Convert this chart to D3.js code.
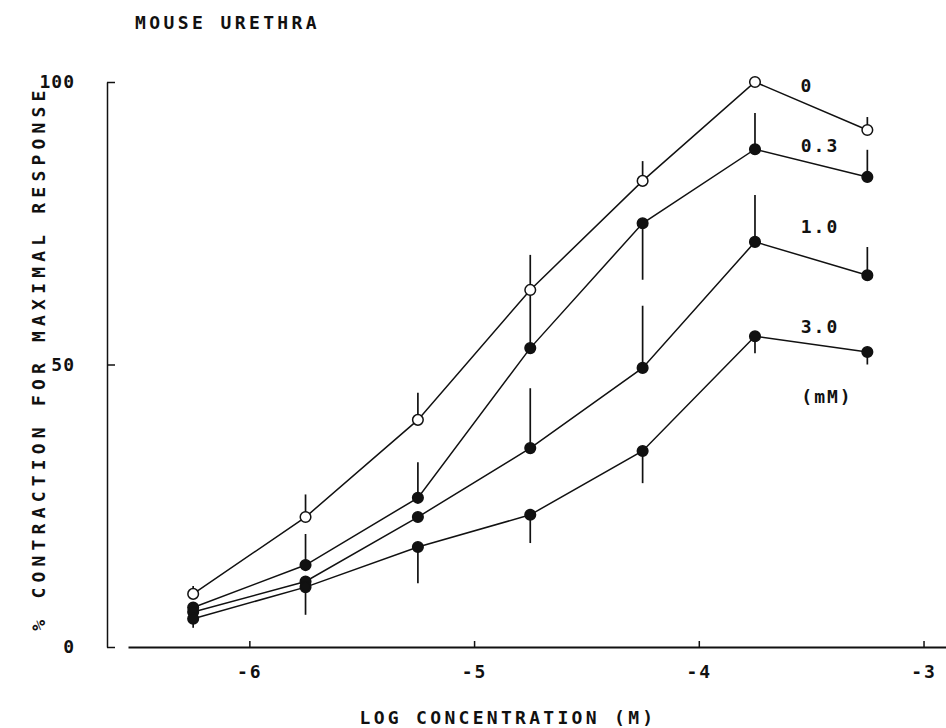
<!DOCTYPE html>
<html>
<head>
<meta charset="utf-8">
<script src="https://cdn.jsdelivr.net/npm/d3@7"></script>
<style>
  body { margin: 0; background: #fff; }
  text { font-family: "DejaVu Sans Mono", monospace; font-weight: bold; fill: #111; }
</style>
</head>
<body>
<svg id="chart" width="946" height="728"></svg>
<script>
// log concentration (M) of agonist
let logConc = [-6.25, -5.75, -5.25, -4.75, -4.25, -3.75, -3.25];

// % contraction, one array per antagonist concentration (mM)
let resp0  = [9.4, 23.0, 40.2, 63.2, 82.5, 100, 91.5];
let resp03 = [7.0, 14.5, 26.4, 52.9, 75.0, 88.1, 83.2];
let resp10 = [6.2, 11.6, 23.0, 35.2, 49.4, 71.7, 65.8];
let resp30 = [5.0, 10.6, 17.7, 23.4, 34.7, 55.0, 52.2];

// end of the (one-sided) error bar for each point, null = none drawn
let errEnd0  = [10.8, 27, 45, 69.4, 86, null, 93.8];
let errEnd03 = [null, 20, 32.7, 62.6, 65, 94.5, 88];
let errEnd10 = [null, null, null, 45.8, 60.4, 80, 70.8];
let errEnd30 = [3.4, 5.7, 11.3, 18.4, 29, 52, 50];

let seriesLabels = ["0", "0.3", "1.0", "3.0"];
let yTicks = [0, 50, 100];
let xTicks = [-6, -5, -4, -3];

let series = [
  {name: "0",   vals: resp0,  err: errEnd0,  open: true},
  {name: "0.3", vals: resp03, err: errEnd03, open: false},
  {name: "1.0", vals: resp10, err: errEnd10, open: false},
  {name: "3.0", vals: resp30, err: errEnd30, open: false}
];

let svg = d3.select("#chart");

let x = d3.scaleLinear().domain([-6.54, -2.9]).range([128, 946]);
let y = d3.scaleLinear().domain([0, 100]).range([647, 82]);

// y axis
let axisY = svg.append("g").attr("transform", "translate(107,0)")
  .call(d3.axisLeft(y).tickValues(yTicks).tickSizeInner(-8).tickSizeOuter(0).tickPadding(32));
axisY.select(".domain").attr("stroke", "#111").attr("stroke-width", 1.5);
axisY.selectAll(".tick line").attr("stroke", "#111").attr("stroke-width", 1.5);
axisY.selectAll(".tick text").attr("font-size", 18).attr("font-family", "DejaVu Sans Mono")
  .attr("font-weight", "bold").attr("letter-spacing", 1).attr("fill", "#111");

// x axis
let axisX = svg.append("g").attr("transform", "translate(0,647)")
  .call(d3.axisBottom(x).tickValues(xTicks).tickSizeInner(-6).tickSizeOuter(0).tickPadding(18)
    .tickFormat(d => "-" + Math.abs(d)));
axisX.select(".domain").attr("stroke", "#111").attr("stroke-width", 2);
axisX.selectAll(".tick line").attr("stroke", "#111").attr("stroke-width", 1.5);
axisX.selectAll(".tick text").attr("font-size", 18).attr("font-family", "DejaVu Sans Mono")
  .attr("font-weight", "bold").attr("letter-spacing", 2).attr("fill", "#111");

// error bars
let bars = svg.append("g");
series.forEach(s => {
  s.vals.forEach((v, i) => {
    if (s.err[i] == null) return;
    bars.append("line")
      .attr("x1", x(logConc[i])).attr("x2", x(logConc[i]))
      .attr("y1", y(v)).attr("y2", y(s.err[i]))
      .attr("stroke", "#111").attr("stroke-width", 1.7);
  });
});

// lines
let line = d3.line().x((d, i) => x(logConc[i])).y(d => y(d));
svg.append("g").selectAll("path")
  .data(series)
  .join("path")
  .attr("d", d => line(d.vals))
  .attr("fill", "none")
  .attr("stroke", "#111")
  .attr("stroke-width", 1.5);

// markers
series.forEach(s => {
  svg.append("g").selectAll("circle")
    .data(s.vals)
    .join("circle")
    .attr("cx", (d, i) => x(logConc[i]))
    .attr("cy", d => y(d))
    .attr("r", 5.3)
    .attr("fill", s.open ? "#fff" : "#111")
    .attr("stroke", "#111")
    .attr("stroke-width", 1.5);
});

// series labels
let labelPos = [[807, 86], [820, 146], [820, 227], [820, 327]];
svg.append("g").selectAll("text")
  .data(seriesLabels)
  .join("text")
  .attr("x", (d, i) => labelPos[i][0])
  .attr("y", (d, i) => labelPos[i][1])
  .attr("dy", "0.36em")
  .attr("text-anchor", "middle")
  .attr("font-size", 18)
  .attr("letter-spacing", 2)
  .text(d => d);

svg.append("text")
  .attr("x", 827).attr("y", 397).attr("dy", "0.36em")
  .attr("text-anchor", "middle")
  .attr("font-size", 18)
  .attr("letter-spacing", 2)
  .text("(mM)");

// titles
svg.append("text")
  .attr("x", 135).attr("y", 29)
  .attr("font-size", 18)
  .attr("letter-spacing", 3.4)
  .text("MOUSE URETHRA");

svg.append("text")
  .attr("x", 508).attr("y", 724)
  .attr("text-anchor", "middle")
  .attr("font-size", 18)
  .attr("letter-spacing", 3.3)
  .text("LOG CONCENTRATION (M)");

svg.append("text")
  .attr("transform", "translate(45,358) rotate(-90)")
  .attr("text-anchor", "middle")
  .attr("font-size", 18)
  .attr("letter-spacing", 5.2)
  .text("% CONTRACTION FOR MAXIMAL RESPONSE");
</script>
</body>
</html>
